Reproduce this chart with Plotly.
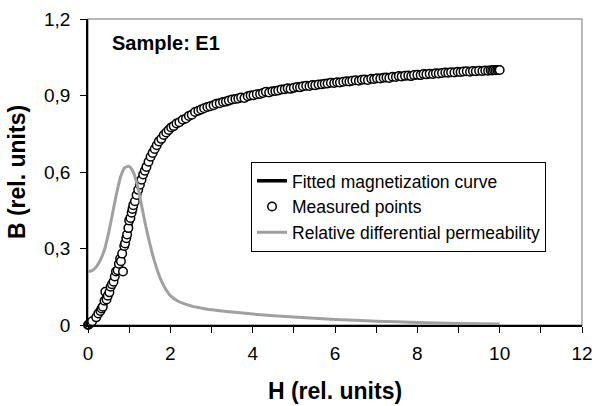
import plotly.graph_objects as go

# Fitted magnetization curve
fit_h = [0, 0.1, 0.2, 0.3, 0.4, 0.5, 0.6, 0.7, 0.8, 0.9, 1.0, 1.1, 1.2, 1.3, 1.4, 1.5, 1.6, 1.7, 1.8, 1.9,
         2.0, 2.2, 2.4, 2.6, 2.8, 3.0, 3.3, 3.6, 4.0, 4.5, 5.0, 5.5, 6.0, 6.5, 7.0, 7.5, 8.0, 8.5, 9.0, 9.5, 10.0]
fit_b = [0, 0.018, 0.038, 0.06, 0.087, 0.118, 0.153, 0.195, 0.245, 0.30, 0.365, 0.43, 0.49, 0.55, 0.60, 0.645, 0.68, 0.707, 0.728, 0.746,
         0.761, 0.787, 0.808, 0.825, 0.839, 0.851, 0.866, 0.88, 0.896, 0.913, 0.927, 0.94, 0.951, 0.96, 0.968, 0.975, 0.981, 0.987, 0.992, 0.996, 1.0]

# Measured points
meas_h = [0.0, 0.02, 0.05, 0.1, 0.2, 0.25, 0.3, 0.33, 0.36, 0.4, 0.42, 0.45, 0.48, 0.52, 0.55, 0.58, 0.62, 0.65, 0.68, 0.72,
          0.75, 0.78, 0.8, 0.83, 0.85, 0.88, 0.9, 0.93, 0.95, 0.98, 1.0, 1.03, 1.06, 1.08, 1.1, 1.14, 1.18, 1.22, 1.26, 1.3,
          1.34, 1.38, 1.42, 1.47, 1.52, 1.57, 1.62, 1.67, 1.72, 1.78, 1.84, 1.9, 1.96, 2.02, 2.08, 2.15, 2.22, 2.3, 2.38, 2.45,
          2.52, 2.6, 2.68, 2.75, 2.82, 2.9, 2.97, 3.05, 3.12, 3.2, 3.28, 3.35, 3.42, 3.5, 3.58, 3.65, 3.72, 3.8, 3.88, 3.95,
          4.02, 4.1, 4.18, 4.25, 4.32, 4.4, 4.48, 4.55, 4.62, 4.7, 4.78, 4.85, 4.92, 5.0, 5.08, 5.15, 5.22, 5.3, 5.38, 5.45,
          5.52, 5.6, 5.68, 5.75, 5.82, 5.9, 5.98, 6.05, 6.12, 6.2, 6.28, 6.35, 6.42, 6.5, 6.58, 6.65, 6.72, 6.8, 6.88, 6.95,
          7.02, 7.1, 7.18, 7.25, 7.32, 7.4, 7.48, 7.55, 7.62, 7.7, 7.78, 7.85, 7.92, 8.0, 8.08, 8.15, 8.22, 8.3, 8.38, 8.45,
          8.52, 8.6, 8.68, 8.75, 8.82, 8.9, 8.98, 9.05, 9.12, 9.2, 9.28, 9.35, 9.42, 9.5, 9.58, 9.65, 9.72, 9.78, 9.82, 9.86,
          9.9, 9.94, 9.97, 10.0]
meas_b = [0.0, 0.002, 0.008, 0.015, 0.03, 0.045, 0.055, 0.065, 0.072, 0.095, 0.13, 0.10, 0.115, 0.128, 0.15, 0.16, 0.17, 0.19, 0.21, 0.215,
          0.24, 0.26, 0.25, 0.28, 0.21, 0.31, 0.32, 0.34, 0.355, 0.38, 0.41, 0.42, 0.44, 0.455, 0.47, 0.485, 0.51, 0.53, 0.55, 0.57,
          0.59, 0.605, 0.62, 0.64, 0.66, 0.675, 0.69, 0.705, 0.72, 0.73, 0.745, 0.755, 0.765, 0.775, 0.78, 0.79, 0.795, 0.805, 0.81, 0.82,
          0.825, 0.835, 0.84, 0.845, 0.85, 0.855, 0.858, 0.862, 0.868, 0.87, 0.875, 0.876, 0.88, 0.884, 0.886, 0.888, 0.892, 0.89, 0.897, 0.9,
          0.901, 0.905, 0.906, 0.91, 0.915, 0.912, 0.917, 0.918, 0.92, 0.924, 0.925, 0.928, 0.926, 0.93, 0.933, 0.932, 0.936, 0.938, 0.937, 0.941,
          0.94, 0.943, 0.944, 0.946, 0.947, 0.95, 0.949, 0.952, 0.951, 0.954, 0.956, 0.955, 0.958, 0.96, 0.958, 0.962, 0.963, 0.961, 0.966, 0.965,
          0.968, 0.967, 0.97, 0.971, 0.969, 0.974, 0.973, 0.976, 0.975, 0.977, 0.978, 0.976, 0.98, 0.981, 0.98, 0.984, 0.983, 0.985, 0.984, 0.987,
          0.986, 0.988, 0.99, 0.989, 0.991, 0.99, 0.993, 0.992, 0.994, 0.995, 0.993, 0.996, 0.995, 0.997, 0.996, 0.998, 0.997, 0.999, 0.998, 1.0,
          0.999, 1.0, 1.0, 1.0]

# Relative differential permeability
perm_h = [0, 0.1, 0.2, 0.3, 0.4, 0.5, 0.6, 0.7, 0.8, 0.9, 1.0, 1.1, 1.2, 1.3, 1.4, 1.5, 1.6, 1.7, 1.8, 1.9,
          2.0, 2.2, 2.4, 2.6, 2.8, 3.0, 3.5, 4.0, 5.0, 6.0, 7.0, 8.0, 9.0, 10.0]
perm_b = [0.21, 0.213, 0.228, 0.255, 0.295, 0.36, 0.44, 0.52, 0.585, 0.618, 0.622, 0.6, 0.548, 0.47, 0.39, 0.32, 0.258, 0.207, 0.167, 0.137,
          0.115, 0.092, 0.08, 0.071, 0.065, 0.06, 0.051, 0.043, 0.031, 0.022, 0.015, 0.01, 0.006, 0.004]

x_ticks = [0, 2, 4, 6, 8, 10, 12]
y_ticks = [0, 0.3, 0.6, 0.9, 1.2]

FONT = "Liberation Sans, Arial, sans-serif"

fig = go.Figure()
fig.add_trace(go.Scatter(x=fit_h, y=fit_b, mode="lines", name="Fitted magnetization curve",
                         line=dict(color="black", width=3.5, shape="spline", smoothing=0.6)))
fig.add_trace(go.Scatter(x=meas_h, y=meas_b, mode="markers", name="Measured points", cliponaxis=False,
                         marker=dict(symbol="circle", size=8.5, color="white", line=dict(color="black", width=1.5))))
fig.add_trace(go.Scatter(x=perm_h, y=perm_b, mode="lines", name="Relative differential permeability",
                         line=dict(color="#a0a0a0", width=3, shape="spline", smoothing=0.6)))

fig.update_layout(
    width=596, height=406,
    margin=dict(l=88, r=14, t=19, b=81),
    paper_bgcolor="white", plot_bgcolor="white",
    separators=", ",
    font=dict(family=FONT, color="black", size=19),
    showlegend=True,
    legend=dict(x=0.33, y=0.533, xanchor="left", yanchor="top",
                bgcolor="white", bordercolor="black", borderwidth=1,
                font=dict(size=17.5), itemwidth=30, tracegroupgap=0),
    shapes=[dict(type="rect", xref="x domain", yref="y domain", x0=0, x1=1, y0=0, y1=1,
                 line=dict(color="#a0a0a0", width=1.5), layer="below")],
    annotations=[dict(text="<b>Sample: E1</b>", xref="x domain", yref="y domain", x=0.045, y=0.92,
                      xanchor="left", yanchor="middle", showarrow=False, font=dict(size=20))],
)
fig.update_xaxes(range=[0, 12], tickvals=x_ticks, ticks="outside", ticklen=6, tickcolor="black",
                 ticklabelstandoff=4, automargin=False,
                 showline=True, linecolor="black", linewidth=1.5, showgrid=False, zeroline=False,
                 minor=dict(dtick=1, ticks="outside", ticklen=6, tickcolor="black"),
                 title=dict(text="<b>H (rel. units)</b>", font=dict(size=23), standoff=20))
fig.update_yaxes(range=[0, 1.2], tickvals=y_ticks, ticks="outside", ticklen=6, tickcolor="black",
                 ticklabelstandoff=6, automargin=False,
                 showline=True, linecolor="black", linewidth=1.5, showgrid=False, zeroline=False,
                 title=dict(text="<b>B (rel. units)</b>", font=dict(size=23), standoff=12))

fig.write_html("out.html")
